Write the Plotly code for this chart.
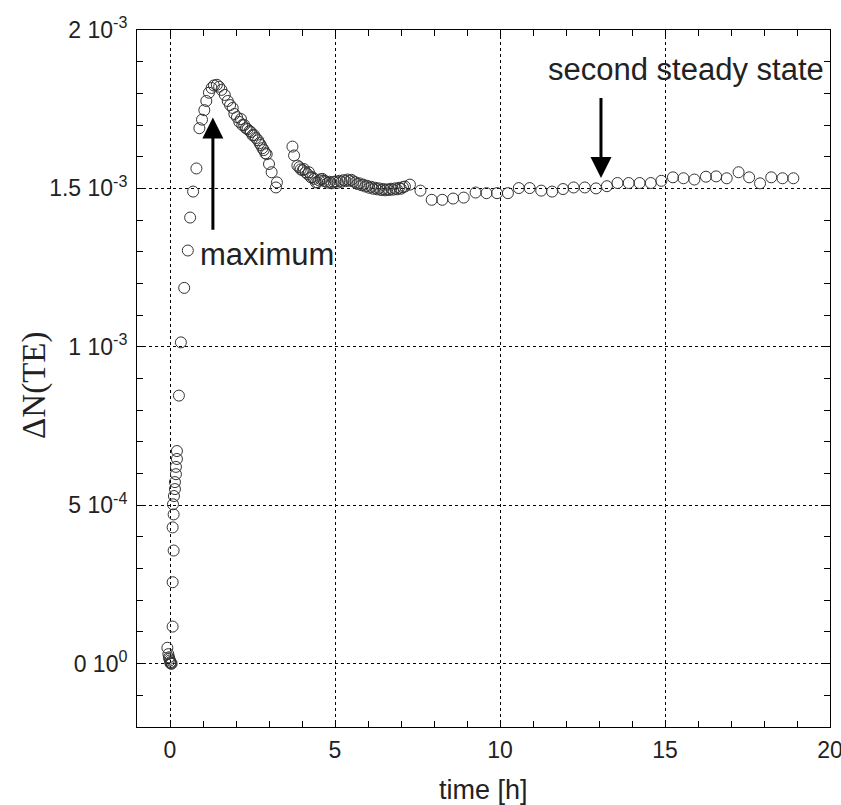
import plotly.graph_objects as go

# time [h]
time_h = [
    -0.08, -0.05, -0.03, -0.02, 0.0, 0.01, 0.02, 0.03, 0.05,
    0.08, 0.08, 0.11, 0.08, 0.11, 0.09,
    0.12, 0.15, 0.15, 0.18, 0.18, 0.21, 0.21,
    0.27, 0.33, 0.43, 0.54, 0.61, 0.70, 0.80, 0.89, 0.97, 1.04, 1.10, 1.18,
    1.26, 1.33, 1.42, 1.49, 1.56, 1.66, 1.75, 1.82, 1.90, 1.95, 2.03, 2.10,
    2.15, 2.19, 2.25, 2.30, 2.35, 2.41, 2.45, 2.50, 2.55, 2.60, 2.67, 2.71,
    2.75, 2.80, 2.84, 2.89, 2.93, 3.00, 3.08, 3.24, 3.21,
    3.71, 3.76, 3.86, 3.92, 3.96, 4.02, 4.06, 4.11, 4.17, 4.21, 4.27, 4.32,
    4.37, 4.42, 4.47, 4.52, 4.57, 4.62, 4.67, 4.72, 4.78, 4.84, 4.90, 4.96,
    5.02, 5.08, 5.14, 5.20, 5.26, 5.32, 5.38, 5.44, 5.50, 5.56, 5.62, 5.68,
    5.74, 5.80, 5.86, 5.92, 5.98, 6.04, 6.10, 6.16, 6.22, 6.28, 6.34, 6.40,
    6.46, 6.52, 6.58, 6.64, 6.70, 6.76, 6.82, 6.88, 6.94, 7.00, 7.06, 7.12,
    7.27, 7.59, 7.93, 8.25, 8.58, 8.90, 9.26, 9.59, 9.91, 10.24, 10.57, 10.90,
    11.25, 11.58, 11.91, 12.23, 12.57, 12.91, 13.24, 13.56, 13.90, 14.23,
    14.57, 14.89, 15.24, 15.56, 15.89, 16.24, 16.55, 16.87, 17.23, 17.55,
    17.88, 18.22, 18.56, 18.89,
]

# ΔN(TE)
delta_n = [
    5.0e-5, 3.0e-5, 2.0e-5, 1.5e-5, 1.0e-5, 0.2e-5, 0.5e-5, 0.0, 0.0,
    1.17e-4, 2.57e-4, 3.57e-4, 4.30e-4, 4.71e-4, 5.03e-4,
    5.29e-4, 5.51e-4, 5.73e-4, 5.98e-4, 6.21e-4, 6.46e-4, 6.71e-4,
    8.46e-4, 1.014e-3, 1.186e-3, 1.304e-3, 1.408e-3, 1.490e-3, 1.563e-3,
    1.690e-3, 1.717e-3, 1.747e-3, 1.776e-3, 1.802e-3,
    1.817e-3, 1.825e-3, 1.827e-3, 1.821e-3, 1.811e-3, 1.795e-3, 1.776e-3,
    1.763e-3, 1.754e-3, 1.735e-3, 1.725e-3, 1.710e-3,
    1.719e-3, 1.700e-3, 1.700e-3, 1.690e-3, 1.687e-3, 1.681e-3, 1.678e-3,
    1.668e-3, 1.668e-3, 1.659e-3, 1.652e-3, 1.643e-3,
    1.637e-3, 1.627e-3, 1.621e-3, 1.611e-3, 1.608e-3, 1.577e-3, 1.551e-3,
    1.519e-3, 1.503e-3,
    1.632e-3, 1.604e-3, 1.572e-3, 1.567e-3, 1.560e-3, 1.557e-3, 1.561e-3,
    1.551e-3, 1.545e-3, 1.551e-3, 1.535e-3, 1.535e-3,
    1.530e-3, 1.519e-3, 1.519e-3, 1.525e-3, 1.529e-3, 1.530e-3, 1.524e-3,
    1.522e-3, 1.518e-3, 1.521e-3, 1.516e-3, 1.520e-3,
    1.522e-3, 1.518e-3, 1.524e-3, 1.521e-3, 1.526e-3, 1.523e-3, 1.528e-3,
    1.524e-3, 1.527e-3, 1.522e-3, 1.519e-3, 1.514e-3,
    1.516e-3, 1.510e-3, 1.512e-3, 1.506e-3, 1.508e-3, 1.502e-3, 1.505e-3,
    1.499e-3, 1.502e-3, 1.497e-3, 1.500e-3, 1.495e-3,
    1.498e-3, 1.494e-3, 1.497e-3, 1.495e-3, 1.499e-3, 1.496e-3, 1.500e-3,
    1.497e-3, 1.502e-3, 1.499e-3, 1.504e-3, 1.506e-3,
    1.512e-3, 1.493e-3, 1.464e-3, 1.464e-3, 1.468e-3, 1.471e-3, 1.487e-3,
    1.485e-3, 1.485e-3, 1.485e-3, 1.501e-3, 1.501e-3,
    1.493e-3, 1.490e-3, 1.498e-3, 1.503e-3, 1.503e-3, 1.500e-3, 1.507e-3,
    1.517e-3, 1.517e-3, 1.517e-3,
    1.517e-3, 1.524e-3, 1.535e-3, 1.532e-3, 1.528e-3, 1.537e-3, 1.538e-3,
    1.532e-3, 1.551e-3, 1.535e-3,
    1.516e-3, 1.535e-3, 1.532e-3, 1.532e-3,
]

x_tickvals = [0, 5, 10, 15, 20]
x_ticktext = ["0", "5", "10", "15", "20"]
y_tickvals = [0, 5e-4, 1e-3, 1.5e-3, 2e-3]
y_ticktext = ["0 10<sup>0</sup>", "5 10<sup>-4</sup>", "1 10<sup>-3</sup>",
              "1.5 10<sup>-3</sup>", "2 10<sup>-3</sup>"]

SANS = "Liberation Sans, Arial, sans-serif"
SERIF = "Liberation Serif, Times New Roman, serif"

fig = go.Figure()
fig.add_trace(go.Scatter(
    x=time_h, y=delta_n, mode="markers",
    marker=dict(symbol="circle-open", size=11, color="#333333",
                line=dict(width=1, color="#333333")),
    showlegend=False,
))

axis_common = dict(
    showline=True, linecolor="black", linewidth=1, mirror="ticks",
    ticks="inside", ticklen=7, tickcolor="black", tickwidth=1,
    showgrid=True, gridcolor="black", gridwidth=1, griddash="dot",
    zeroline=False, ticklabeloverflow="allow",
    tickfont=dict(family=SANS, size=23, color="#222"),
)

fig.update_xaxes(range=[-1, 20], tickmode="array", tickvals=x_tickvals,
                 ticktext=x_ticktext,
                 minor=dict(dtick=1, ticks="inside", ticklen=6, tickcolor="black",
                            showgrid=False),
                 ticklabelstandoff=2,
                 **axis_common)
fig.update_yaxes(range=[-2e-4, 2e-3], tickmode="array", tickvals=y_tickvals,
                 ticktext=y_ticktext,
                 minor=dict(dtick=1e-4, tick0=0, ticks="inside", ticklen=6,
                            tickcolor="black", showgrid=False),
                 ticklabelstandoff=4,
                 **axis_common)

fig.add_annotation(x=1.30, y=1.724e-3, ax=1.30, ay=1.365e-3, xref="x", yref="y",
                   axref="x", ayref="y", text="", showarrow=True,
                   arrowhead=2, arrowsize=1.4, arrowwidth=3, arrowcolor="black")
fig.add_annotation(x=13.06, y=1.533e-3, ax=13.06, ay=1.79e-3, xref="x", yref="y",
                   axref="x", ayref="y", text="", showarrow=True,
                   arrowhead=2, arrowsize=1.4, arrowwidth=3, arrowcolor="black")
fig.add_annotation(x=0.85, y=1.292e-3, xref="x", yref="y", text="maximum",
                   showarrow=False, xanchor="left", yanchor="middle",
                   font=dict(family=SANS, size=31, color="#222"))
fig.add_annotation(x=15.64, y=1.876e-3, xref="x", yref="y", text="second steady state",
                   showarrow=False, xanchor="center", yanchor="middle",
                   font=dict(family=SANS, size=31, color="#222"))

fig.add_annotation(x=0.5, y=-0.09, xref="paper", yref="paper", text="time [h]",
                   showarrow=False, xanchor="center", yanchor="middle",
                   font=dict(family=SANS, size=27, color="#222"))
fig.add_annotation(x=-0.148, y=0.49, xref="paper", yref="paper", text="ΔN(TE)",
                   textangle=-90, showarrow=False, xanchor="center", yanchor="middle",
                   font=dict(family=SERIF, size=33, color="#222"))

fig.update_layout(
    width=841, height=805,
    margin=dict(l=137, r=11, t=30, b=78, autoexpand=False),
    plot_bgcolor="white", paper_bgcolor="white",
)

fig.write_html("out.html",
               config={"displayModeBar": False},
               post_script="document.body.style.margin='0';document.body.style.overflow='hidden';")
